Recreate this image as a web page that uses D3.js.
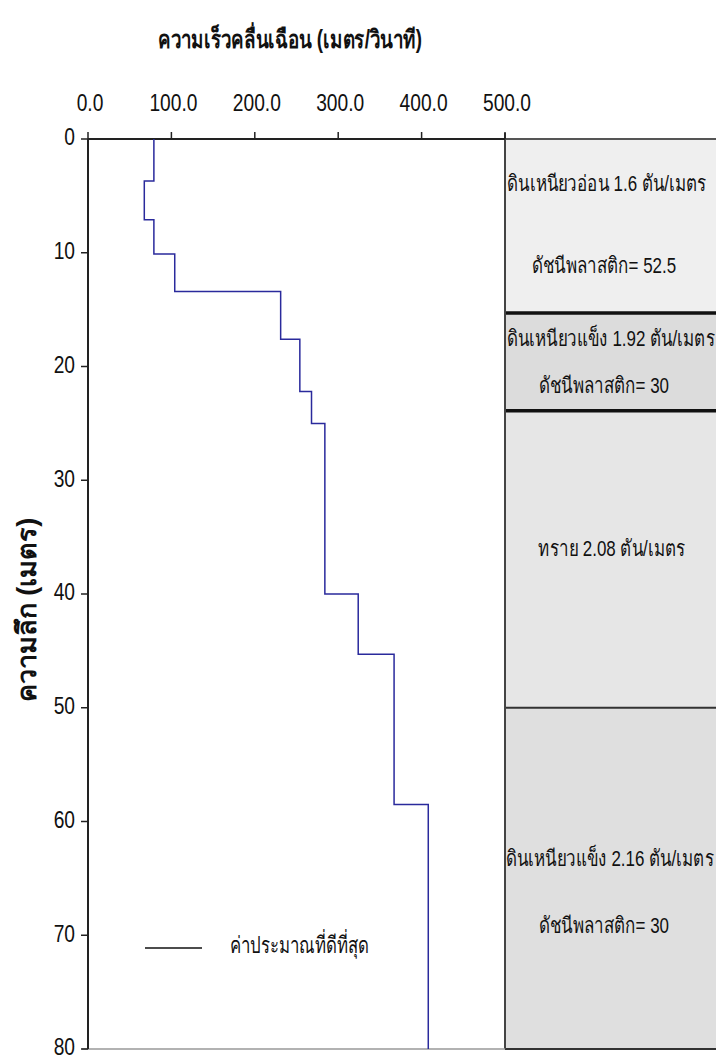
<!DOCTYPE html>
<html>
<head>
<meta charset="utf-8">
<script src="https://cdn.jsdelivr.net/npm/d3@7"></script>
<style>
  body { margin: 0; background: #fff; }
  svg { display: block; }
  text { font-family: "Liberation Sans Narrow", "Liberation Sans", "Noto Sans", sans-serif; fill: #111; }
</style>
</head>
<body>
<svg></svg>
<script>
const width = 716;
const height = 1060;

// step profile: depth breaks (m) and shear-wave velocity in each interval (m/s)
const stepDepths = [0, 3.7, 7.1, 10.1, 13.4, 17.6, 22.2, 25.0, 40.0, 45.3, 58.5, 80];
const stepVelocity = [79, 67.5, 79, 104, 231, 254, 268, 284, 324, 367, 408];

// soil layers
const layerTop = [0, 15.3, 23.9, 50];
const layerBottom = [15.3, 23.9, 50, 80];
const layerFill = ["#efefef", "#dcdcdc", "#e6e6e6", "#dfdfdf"];
const layerLine1 = ["ดินเหนียวอ่อน 1.6 ตัน/เมตร", "ดินเหนียวแข็ง 1.92 ตัน/เมตร", "ทราย 2.08 ตัน/เมตร", "ดินเหนียวแข็ง 2.16 ตัน/เมตร"];
const layerLine2 = ["ดัชนีพลาสติก= 52.5", "ดัชนีพลาสติก= 30", "", "ดัชนีพลาสติก= 30"];

const xTicks = [0, 100, 200, 300, 400, 500];
const yTicks = [0, 10, 20, 30, 40, 50, 60, 70, 80];

const titleX = "ความเร็วคลื่นเฉือน (เมตร/วินาที)";
const titleY = "ความลึก (เมตร)";
const legendLabel = "ค่าประมาณที่ดีที่สุด";

const x = d3.scaleLinear().domain([0, 500]).range([88, 505]);
const y = d3.scaleLinear().domain([0, 80]).range([139, 1049]);

const svg = d3.select("svg").attr("width", width).attr("height", height);

// condensed text helper
function label(g, str, px, py, size, anchor, sx) {
    return g.append("text")
        .attr("transform", "translate(" + px + "," + py + ") scale(" + sx + ",1)")
        .attr("text-anchor", anchor)
        .attr("dominant-baseline", "central")
        .attr("font-size", size)
        .text(str);
}

// layer panel
const panel = svg.append("g");
panel.selectAll("rect")
    .data(layerTop)
    .enter().append("rect")
    .attr("x", x(500))
    .attr("y", function (d) { return y(d); })
    .attr("width", width - x(500))
    .attr("height", function (d, i) { return y(layerBottom[i]) - y(d); })
    .attr("fill", function (d, i) { return layerFill[i]; });

// layer boundaries (first two thick)
panel.selectAll("line.b")
    .data(layerBottom.slice(0, 3))
    .enter().append("line")
    .attr("x1", x(500)).attr("x2", width)
    .attr("y1", function (d) { return y(d); })
    .attr("y2", function (d) { return y(d); })
    .attr("stroke", function (d, i) { return i < 2 ? "#111" : "#333"; })
    .attr("stroke-width", function (d, i) { return i < 2 ? 3.5 : 2; });

panel.append("line")
    .attr("x1", x(500)).attr("x2", width)
    .attr("y1", y(0)).attr("y2", y(0))
    .attr("stroke", "#555").attr("stroke-width", 2);
panel.append("line")
    .attr("x1", x(500)).attr("x2", width)
    .attr("y1", y(80)).attr("y2", y(80))
    .attr("stroke", "#333").attr("stroke-width", 2);
panel.append("line")
    .attr("x1", x(500)).attr("x2", x(500))
    .attr("y1", y(0) - 6).attr("y2", y(80))
    .attr("stroke", "#444").attr("stroke-width", 2);

// layer labels
const line1X = [607, 611, 612, 610];
const line1Y = [183, 338, 548, 858];
const line2Y = [265, 385, 0, 925];
layerLine1.forEach(function (s, i) {
    label(panel, s, line1X[i], line1Y[i], 22, "middle", 0.77);
    if (layerLine2[i]) label(panel, layerLine2[i], 604, line2Y[i], 22, "middle", 0.77);
});

// bottom baseline (light)
svg.append("line")
    .attr("x1", x(0) - 6).attr("x2", x(500))
    .attr("y1", y(80)).attr("y2", y(80))
    .attr("stroke", "#999").attr("stroke-width", 1.5);

// axes
const axisTop = svg.append("g");
axisTop.append("line")
    .attr("x1", x(0)).attr("x2", x(500))
    .attr("y1", y(0)).attr("y2", y(0))
    .attr("stroke", "#222").attr("stroke-width", 2);
axisTop.selectAll("line.t")
    .data(xTicks)
    .enter().append("line")
    .attr("x1", function (d) { return x(d); })
    .attr("x2", function (d) { return x(d); })
    .attr("y1", y(0) - 7)
    .attr("y2", function (d) { return d === 0 ? y(0) + 6 : y(0); })
    .attr("stroke", "#222").attr("stroke-width", 1.5);
xTicks.forEach(function (d) {
    label(axisTop, d3.format(".1f")(d), x(d) + 2, 103, 24, "middle", 0.8);
});

const axisLeft = svg.append("g");
axisLeft.append("line")
    .attr("x1", x(0)).attr("x2", x(0))
    .attr("y1", y(0)).attr("y2", y(80))
    .attr("stroke", "#222").attr("stroke-width", 2);
axisLeft.selectAll("line.t")
    .data(yTicks)
    .enter().append("line")
    .attr("x1", x(0) - 7).attr("x2", x(0))
    .attr("y1", function (d) { return y(d); })
    .attr("y2", function (d) { return y(d); })
    .attr("stroke", "#222").attr("stroke-width", 1.5);
yTicks.forEach(function (d) {
    label(axisLeft, String(d), 75, y(d) - 2, 24, "end", 0.8);
});

// step line
const pts = [];
stepVelocity.forEach(function (v, i) {
    pts.push([x(v), y(stepDepths[i])]);
    pts.push([x(v), y(stepDepths[i + 1])]);
});
svg.append("path")
    .attr("d", d3.line()(pts))
    .attr("fill", "none")
    .attr("stroke", "#2a2a9c")
    .attr("stroke-width", 1.5);

// titles
label(svg, titleX, 290, 40, 25, "middle", 0.75).attr("font-weight", "bold");
svg.append("text")
    .attr("transform", "translate(27,610) rotate(-90)")
    .attr("text-anchor", "middle")
    .attr("dominant-baseline", "central")
    .attr("font-size", 27)
    .attr("font-weight", "bold")
    .text(titleY);

// legend
svg.append("line")
    .attr("x1", 145).attr("x2", 202)
    .attr("y1", 948).attr("y2", 948)
    .attr("stroke", "#111").attr("stroke-width", 1.5);
label(svg, legendLabel, 230, 945, 23, "start", 0.73);
</script>
</body>
</html>
